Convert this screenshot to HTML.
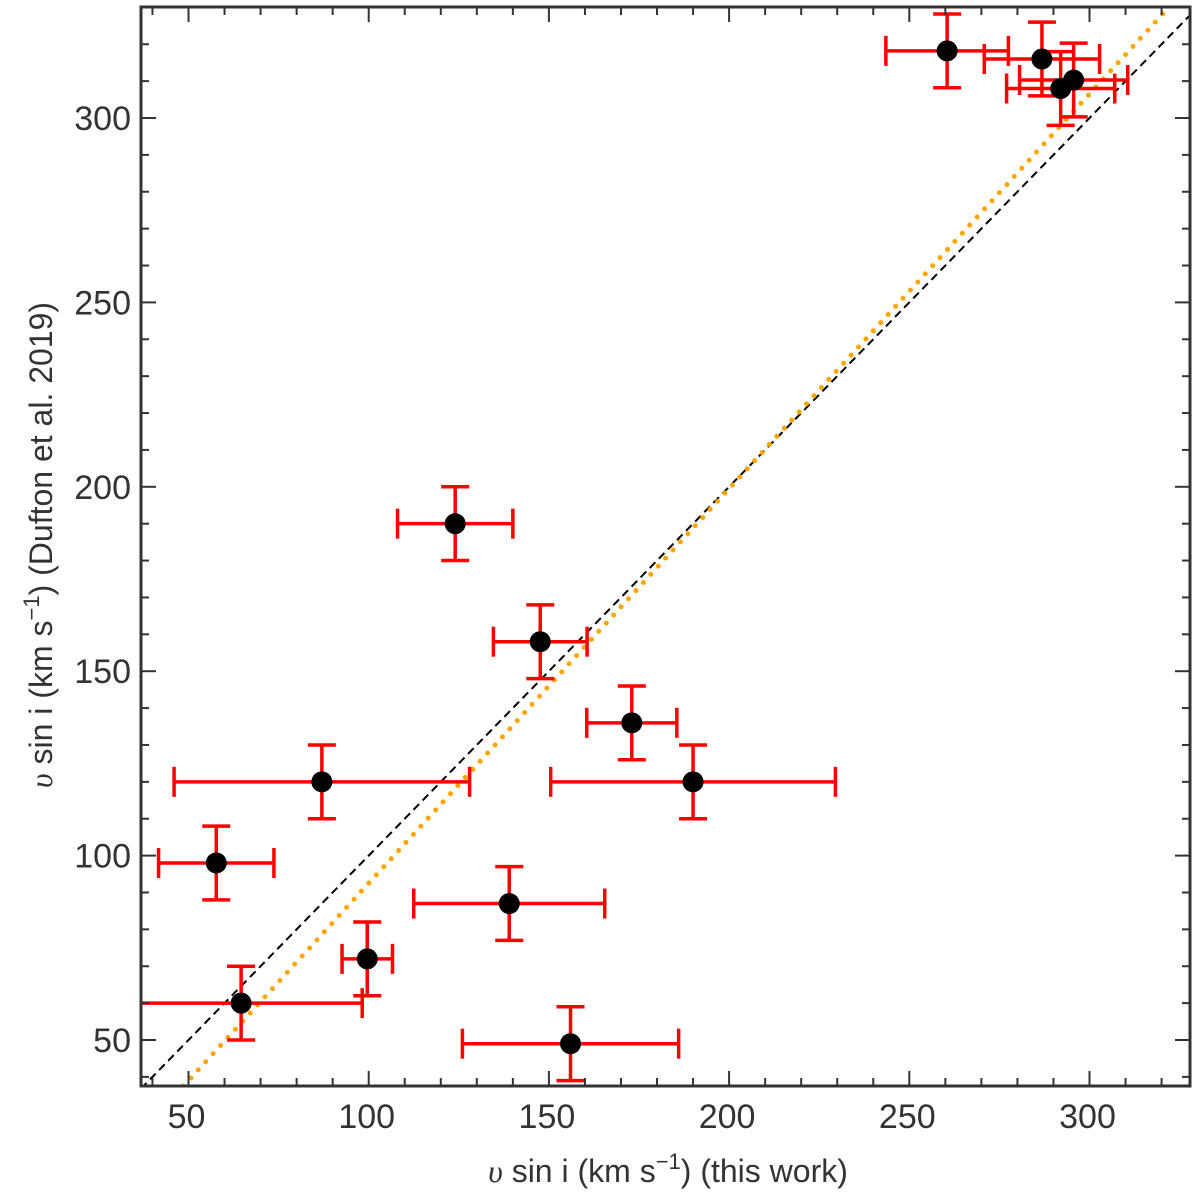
<!DOCTYPE html>
<html><head><meta charset="utf-8"><style>
html,body{margin:0;padding:0;background:#fff}
svg{display:block;font-family:"Liberation Sans",sans-serif}
</style></head><body>
<svg id="chart" width="1200" height="1200"></svg>
<script>
const xs = [260.5, 286.8, 292.0, 295.6, 124.0, 147.6, 173.0, 190.0, 87.0, 57.7, 139.0, 99.6, 64.6, 156.0];
const ys = [318.2, 316.0, 308.0, 310.3, 190.0, 158.0, 136.0, 120.0, 120.0, 98.0, 87.0, 72.0, 60.0, 49.0];
const xerrs = [17, 16, 15, 15, 16, 13, 12.5, 39.5, 41, 16, 26.5, 7, 33.6, 30];
const yerrs = [10, 10, 10, 10, 10, 10, 10, 10, 10, 10, 10, 10, 10, 10];
const xTicks = [50, 100, 150, 200, 250, 300];
const yTicks = [50, 100, 150, 200, 250, 300];
const fitSlope = 1.07, fitIntercept = -14.5;

const NS = "http://www.w3.org/2000/svg";
const svg = document.getElementById('chart');
const L = 141, R = 1190, T = 7, B = 1086;
const X = v => 368.7 + (v - 100) * 3.604;
const Y = v => 118 + (300 - v) * 3.688;
const xmin = 36.8, xmax = 328, ymin = 37.5, ymax = 330;
function mk(tag, attrs, parent) {
  const e = document.createElementNS(NS, tag);
  for (const k in attrs) e.setAttribute(k, attrs[k]);
  (parent || svg).appendChild(e);
  return e;
}
const defs = mk('defs', {});
const cp = mk('clipPath', {id: 'clip'}, defs);
mk('rect', {x: L, y: T, width: R - L, height: B - T}, cp);
const plot = mk('g', {'clip-path': 'url(#clip)'});



const d1 = mk('line', {x1: X(xmin), y1: Y(xmin), x2: X(ymax), y2: Y(ymax), stroke: '#000', 'stroke-width': 2, 'stroke-dasharray': '8,5'}, plot);


const fx0 = (ymin - fitIntercept) / fitSlope, fx1 = (ymax - fitIntercept) / fitSlope;
const d2 = mk('line', {x1: X(fx0), y1: Y(ymin), x2: X(fx1), y2: Y(ymax), stroke: 'orange', 'stroke-width': 5, 'stroke-dasharray': '0,11', 'stroke-linecap': 'round'}, plot);



for (let i = 0; i < xs.length; i++) {
  const g = mk('g', {stroke: '#f00', 'stroke-width': 3.5, fill: 'none'}, plot);
  
  
  const cx = X(xs[i]), cy = Y(ys[i]);
  const xa = X(xs[i] - xerrs[i]), xb = X(xs[i] + xerrs[i]);
  const ya = Y(ys[i] - yerrs[i]), yb = Y(ys[i] + yerrs[i]);
  mk('line', {x1: xa, y1: cy, x2: xb, y2: cy}, g);
  mk('line', {x1: xa, y1: cy - 15, x2: xa, y2: cy + 15}, g);
  mk('line', {x1: xb, y1: cy - 15, x2: xb, y2: cy + 15}, g);
  mk('line', {x1: cx, y1: ya, x2: cx, y2: yb}, g);
  mk('line', {x1: cx - 14, y1: ya, x2: cx + 14, y2: ya}, g);
  mk('line', {x1: cx - 14, y1: yb, x2: cx + 14, y2: yb}, g);
}
for (let i = 0; i < xs.length; i++) {
  const c = mk('circle', {cx: X(xs[i]), cy: Y(ys[i]), r: 10.5, fill: '#000'}, plot);
  
  
}

const tg = mk('g', {stroke: '#333', 'stroke-width': 2});


for (let v = 40; v <= 320; v += 10) {
  const len = v % 50 === 0 ? 15 : 8, px = X(v);
  if (px < L || px > R) continue;
  mk('line', {x1: px, y1: B, x2: px, y2: B - len}, tg);
  mk('line', {x1: px, y1: T, x2: px, y2: T + len}, tg);
}
for (let v = 40; v <= 330; v += 10) {
  const len = v % 50 === 0 ? 15 : 8, py = Y(v);
  if (py < T || py > B) continue;
  mk('line', {x1: L, y1: py, x2: L + len, y2: py}, tg);
  mk('line', {x1: R, y1: py, x2: R - len, y2: py}, tg);
}
const frame = mk('rect', {x: L, y: T, width: R - L, height: B - T, fill: 'none', stroke: '#333', 'stroke-width': 3});



xTicks.forEach(v => {
  const t = mk('text', {x: X(v) - 2, y: B + 42, 'font-size': 34, fill: '#333', 'text-anchor': 'middle'});
  t.textContent = v;
  
  
});
yTicks.forEach(v => {
  const t = mk('text', {x: L - 10, y: Y(v) + 12, 'font-size': 34, fill: '#333', 'text-anchor': 'end'});
  t.textContent = v;
  
  
});
</script>
<svg style="position:absolute;left:0;top:0" width="1200" height="1200">
<text x="668" y="1182" font-family="Liberation Sans, sans-serif" font-size="32" fill="#333" text-anchor="middle"><tspan font-family="Liberation Serif, serif" font-style="italic">υ</tspan> sin i (km s<tspan dy="-13" font-size="22">−1</tspan><tspan dy="13">) (this work)</tspan></text>
<text transform="translate(52,545) rotate(-90)" font-family="Liberation Sans, sans-serif" font-size="32" fill="#333" text-anchor="middle"><tspan font-family="Liberation Serif, serif" font-style="italic">υ</tspan> sin i (km s<tspan dy="-13" font-size="22">−1</tspan><tspan dy="13">) (Dufton et al. 2019)</tspan></text>
</svg>
</body></html>
